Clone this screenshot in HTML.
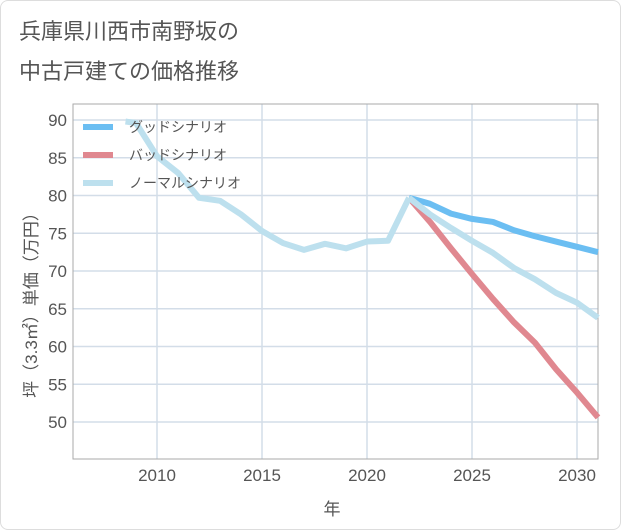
<!DOCTYPE html>
<html><head><meta charset="utf-8"><style>
body{margin:0;background:#fff;}
#wrap{position:relative;width:619px;height:528px;border:1px solid #ddd;border-radius:8px;overflow:hidden;background:#fff;font-family:"Liberation Sans","Noto Sans CJK JP",sans-serif;}
</style></head><body>
<div id="wrap">
<svg id="chart" width="621" height="530"></svg>
</div>
<script>
const histYears=[2008.5,2009,2010,2011,2012,2013,2014,2015,2016,2017,2018,2019,2020,2021,2022];
const histValues=[89.8,89.6,85.2,83.0,79.7,79.3,77.5,75.3,73.7,72.8,73.6,73.0,73.9,74.0,79.7];
const futYears=[2022,2023,2024,2025,2026,2027,2028,2029,2030,2031];
const goodValues=[79.7,78.9,77.6,76.9,76.5,75.4,74.6,73.9,73.2,72.5];
const badValues=[79.7,76.5,73.0,69.6,66.3,63.2,60.5,57.0,53.9,50.6];
const normalValues=[79.7,77.5,75.7,74.0,72.4,70.4,68.9,67.1,65.8,63.8];
const xTicks=[2010,2015,2020,2025,2030];
const yTicks=[50,55,60,65,70,75,80,85,90];
const legendLabels=["グッドシナリオ","バッドシナリオ","ノーマルシナリオ"];
const colors=["#6bbef2","#e08890","#bde0ee"];

const NS="http://www.w3.org/2000/svg";
const svg=document.getElementById('chart');
const L=72,R=597,T=103,B=458;
const x=v=>L+(v-2006)*21;
const y=v=>119+(90-v)*7.55;
function mk(tag,attrs,parent){const e=document.createElementNS(NS,tag);for(const k in attrs)e.setAttribute(k,attrs[k]);(parent||svg).appendChild(e);return e;}
let t;
t=mk('text',{x:18,y:38,'font-size':22,fill:'#555'});t.textContent='兵庫県川西市南野坂の';


t=mk('text',{x:18,y:78,'font-size':22,fill:'#555'});t.textContent='中古戸建ての価格推移';


const plot=mk('rect',{x:L,y:T,width:R-L,height:B-T,fill:'#fff',stroke:'#999','stroke-width':1});


yTicks.forEach(v=>{
 const g=mk('line',{x1:L,x2:R,y1:y(v),y2:y(v),stroke:'#d3dde8','stroke-width':1.5});
 
 
 const tx=mk('text',{x:L-6,y:y(v)+6,'font-size':17,fill:'#555','text-anchor':'end'});tx.textContent=v;
 
 
});
xTicks.forEach(v=>{
 const g=mk('line',{x1:x(v),x2:x(v),y1:T,y2:B,stroke:'#d3dde8','stroke-width':1.5});
 
 
 const tx=mk('text',{x:x(v),y:480,'font-size':17,fill:'#555','text-anchor':'middle'});tx.textContent=v;
 
 
});
mk('rect',{x:L,y:T,width:R-L,height:B-T,fill:'none',stroke:'#aaa','stroke-width':1});
t=mk('text',{x:331,y:514,'font-size':17,fill:'#555','text-anchor':'middle'});t.textContent='年';


t=mk('text',{x:0,y:0,'font-size':17,fill:'#555','text-anchor':'middle',transform:'translate(36,300) rotate(-90)'});t.textContent='坪（3.3㎡）単価（万円）';


function line(xs,vs,c,name){
 const p=mk('polyline',{points:xs.map((a,i)=>x(a)+','+y(vs[i])).join(' '),fill:'none',stroke:c,'stroke-width':6,'stroke-linejoin':'round'});
 
 
}
line(futYears,goodValues,colors[0],'good-scenario-line');
line(futYears,badValues,colors[1],'bad-scenario-line');
line(futYears,normalValues,colors[2],'normal-scenario-line');
line(histYears,histValues,colors[2],'historical-line');
legendLabels.forEach((s,i)=>{
 const yy=126+i*28;
 const ln=mk('line',{x1:82,x2:112,y1:yy,y2:yy,stroke:colors[i],'stroke-width':6});
 
 
 const tx=mk('text',{x:128,y:yy+5,'font-size':14,fill:'#555'});tx.textContent=s;
 
 
});
</script>
</body></html>
